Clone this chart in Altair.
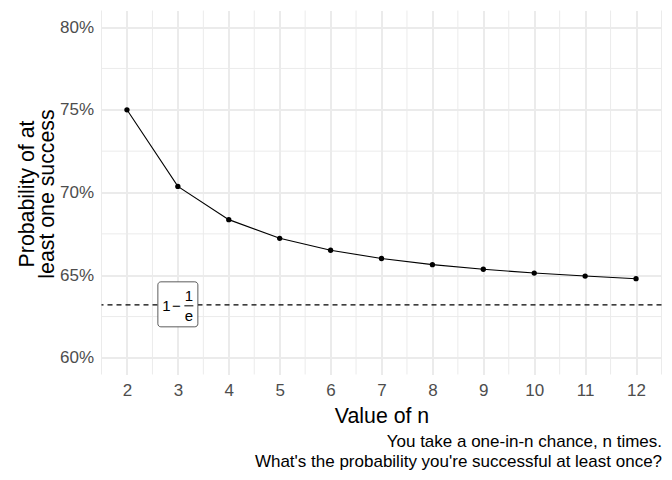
import altair as alt
import pandas as pd

n_values = [2, 3, 4, 5, 6, 7, 8, 9, 10, 11, 12]
probs = [0.75, 0.7037, 0.6836, 0.6723, 0.6651, 0.6601, 0.6564, 0.6536, 0.6513, 0.6495, 0.6479]
asymptote = 0.6321
label_n = 3
x_minor = [1.5, 2.5, 3.5, 4.5, 5.5, 6.5, 7.5, 8.5, 9.5, 10.5, 11.5, 12.5]
y_minor = [0.625, 0.675, 0.725, 0.775]
y_ticks = [0.60, 0.65, 0.70, 0.75, 0.80]
caption = ["You take a one-in-n chance, n times.",
           "What's the probability you're successful at least once?"]

FONT = "Liberation Sans"
GRID = "#EBEBEB"

df = pd.DataFrame({"n": n_values, "p": probs})
xscale = alt.Scale(domain=[1.5, 12.5], nice=False, zero=False)
yscale = alt.Scale(domain=[0.59, 0.81], nice=False, zero=False)

xminor = alt.Chart(pd.DataFrame({"x": x_minor})).mark_rule(color=GRID, strokeWidth=1).encode(
    x=alt.X("x:Q", scale=xscale))
yminor = alt.Chart(pd.DataFrame({"y": y_minor})).mark_rule(color=GRID, strokeWidth=1).encode(
    y=alt.Y("y:Q", scale=yscale))

line = alt.Chart(df).mark_line(color="black", strokeWidth=1.1).encode(
    x=alt.X("n:Q", scale=xscale,
            axis=alt.Axis(values=n_values, title="Value of n", grid=True, gridColor=GRID,
                          gridWidth=2, domain=False, ticks=False, labelFontSize=17,
                          labelColor="#4D4D4D", labelFont=FONT, labelPadding=7.5,
                          titleFont=FONT, titleFontSize=21.3, titleFontWeight="normal",
                          titleColor="black", titlePadding=7)),
    y=alt.Y("p:Q", scale=yscale,
            axis=alt.Axis(values=y_ticks, format=".0%", title=["Probability of at", "least one success"],
                          grid=True, gridColor=GRID, gridWidth=2, domain=False, ticks=False,
                          labelFontSize=17, labelColor="#4D4D4D", labelFont=FONT, labelPadding=8,
                          titleFont=FONT, titleFontSize=21.3, titleFontWeight="normal",
                          titleColor="black", titleLineHeight=20, titleAngle=-90,
                          titleBaseline="alphabetic", titleAlign="center",
                          titleX=-68.5, titleY=183)),
)
points = alt.Chart(df).mark_circle(color="black", size=28, opacity=1).encode(
    x=alt.X("n:Q", scale=xscale), y=alt.Y("p:Q", scale=yscale))

hline = alt.Chart(pd.DataFrame({"y": [asymptote]})).mark_rule(
    color="black", strokeWidth=1.1, strokeDash=[5, 4]).encode(y=alt.Y("y:Q", scale=yscale))

lab = pd.DataFrame({"x": [label_n], "y": [asymptote]})
box = alt.Chart(lab).mark_rect(fill="white", stroke="#333333", strokeWidth=0.8, cornerRadius=3,
                               xOffset=-20, x2Offset=20, yOffset=-23, y2Offset=22).encode(
    x=alt.X("x:Q", scale=xscale), x2="x:Q", y=alt.Y("y:Q", scale=yscale), y2="y:Q")

def txt(s, dx, dy):
    return alt.Chart(lab).mark_text(text=s, font=FONT, fontSize=15, color="black", align="center",
                                    baseline="alphabetic", dx=dx, dy=dy).encode(
        x=alt.X("x:Q", scale=xscale), y=alt.Y("y:Q", scale=yscale))

t1 = txt("1", -11.5, 6.5)
tminus = txt("\u2212", -1.5, 6.5)
tnum = txt("1", 11, -3.5)
tden = txt("e", 11, 16.5)
bar = alt.Chart(lab).mark_rule(color="black", strokeWidth=1, xOffset=6.5, x2Offset=15.5,
                               yOffset=1, y2Offset=1).encode(
    x=alt.X("x:Q", scale=xscale), x2="x:Q", y=alt.Y("y:Q", scale=yscale))

chart = alt.layer(xminor, yminor, line, hline, box, t1, tminus, tnum, tden, bar, points).properties(
    width=560, height=364,
    autosize=alt.AutoSizeParams(type="none"),
    padding={"left": 93.5, "top": 2.5, "right": 2.5, "bottom": 97},
    title=alt.TitleParams(caption, orient="bottom", anchor="end", align="right", fontSize=17,
                          fontWeight="normal", font=FONT, color="black", lineHeight=19.5, offset=8),
).configure_view(stroke=None)

chart.save("out.html", embed_options={"renderer": "svg", "actions": False})
